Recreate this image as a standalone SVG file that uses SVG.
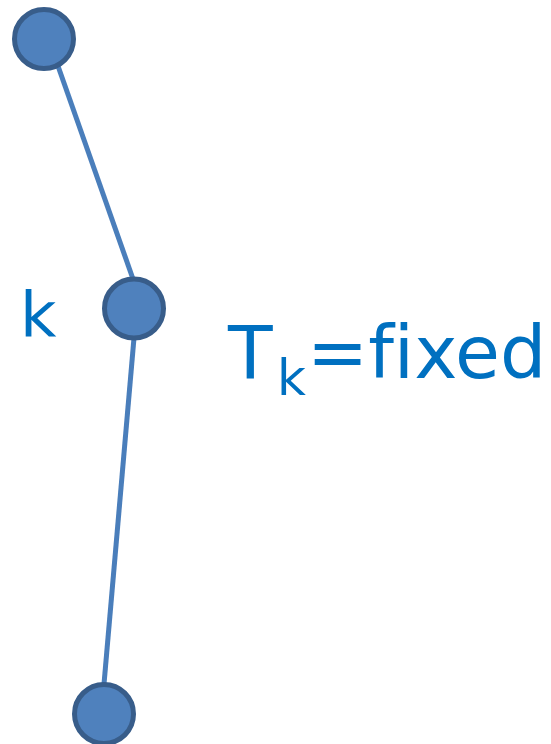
<svg xmlns="http://www.w3.org/2000/svg" width="551" height="744" viewBox="0 0 551 744">
<style>
.node{fill:#4f81bd;stroke:#385d8a;stroke-width:5}
.edge{stroke:#4a7ebb;stroke-width:5;fill:none}
.lbl{fill:#0070c0;font-family:"DejaVu Sans",Verdana,sans-serif;font-variant-ligatures:none;font-feature-settings:"liga" 0}
</style>
<rect width="551" height="744" fill="#ffffff"/>
<g id="connectors">
<line class="edge" x1="58" y1="66" x2="133" y2="279"/>
<line class="edge" x1="134" y1="338" x2="104" y2="684"/>
</g>
<g id="node-top"><circle class="node" cx="44" cy="39" r="29.5"/></g>
<g id="node-k"><circle class="node" cx="134" cy="308.5" r="29.5"/><text class="lbl" x="20" y="336" font-size="63">k</text></g>
<g id="node-bottom"><circle class="node" cx="104" cy="714" r="29.5"/></g>
<g id="label-tk">
<text class="lbl" font-size="73"><tspan x="228" y="378">T</tspan><tspan x="277" y="395" font-size="50">k</tspan><tspan x="307" y="378">=fixed</tspan></text>
</g>
</svg>
